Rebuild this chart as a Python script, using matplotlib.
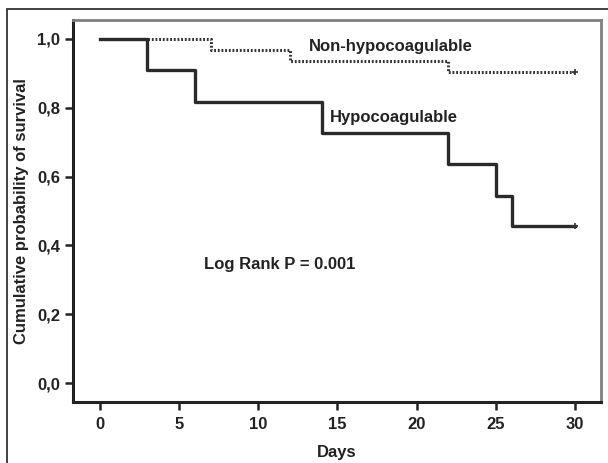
import matplotlib.pyplot as plt
from matplotlib.patches import Rectangle

# Kaplan-Meier survival estimates
hypo_days = [0, 3, 6, 14, 22, 25, 26, 30]
hypo_surv = [1.0, 0.909, 0.818, 0.727, 0.636, 0.545, 0.455, 0.455]

nonhypo_days = [0, 7, 12, 22, 30]
nonhypo_surv = [1.0, 0.968, 0.935, 0.903, 0.903]

x_ticks = [0, 5, 10, 15, 20, 25, 30]
y_ticks = [0.0, 0.2, 0.4, 0.6, 0.8, 1.0]
y_tick_labels = ['0,0', '0,2', '0,4', '0,6', '0,8', '1,0']

plt.rcParams['font.family'] = ['Liberation Sans', 'DejaVu Sans']
plt.rcParams['font.weight'] = 'bold'

fig = plt.figure(figsize=(6.08, 4.63), dpi=100)
ax = fig.add_axes([73 / 608, 61 / 463, 528 / 608, 382 / 463])

# outer frame of the figure (left and top edges visible)
fig.patches.append(Rectangle((7 / 608, -0.05), 1.2, (454 / 463) + 0.05,
                             transform=fig.transFigure, fill=False,
                             edgecolor='#333333', linewidth=1.3))

ax.step(nonhypo_days, nonhypo_surv, where='post', color='#333333',
        linewidth=2.2, linestyle=(0, (0.6, 0.6)))
ax.step(hypo_days, hypo_surv, where='post', color='#2a2a2a', linewidth=2.4)

# censor marks at the end of follow-up
ax.plot(nonhypo_days[-1], nonhypo_surv[-1], marker='+', color='#333333',
        markersize=5, markeredgewidth=1.2)
ax.plot(hypo_days[-1], hypo_surv[-1], marker='+', color='#333333',
        markersize=5, markeredgewidth=1.2)

ax.text(13.2, 0.977, 'Non-hypocoagulable', fontsize=12, fontweight='bold',
        color='#222222', va='center')
ax.text(14.5, 0.771, 'Hypocoagulable', fontsize=12, fontweight='bold',
        color='#222222', va='center')
ax.text(6.55, 0.345, 'Log Rank P = 0.001', fontsize=12, fontweight='bold',
        color='#222222', va='center')

ax.set_xlim(-1.7, 31.64)
ax.set_ylim(-0.055, 1.055)
ax.set_xticks(x_ticks)
ax.set_yticks(y_ticks)
ax.set_yticklabels(y_tick_labels)
ax.tick_params(direction='out', length=6, width=1.8, color='#222222',
               labelsize=12, labelcolor='#222222', pad=3)
ax.tick_params(axis='x', pad=5)
for lbl in ax.get_xticklabels() + ax.get_yticklabels():
    lbl.set_fontweight('bold')

ax.set_xlabel('Days', fontsize=12, fontweight='bold', color='#222222',
              labelpad=9)
ax.set_ylabel('Cumulative probability of survival', fontsize=12,
              fontweight='bold', color='#222222', labelpad=6)

for side in ['left', 'bottom']:
    ax.spines[side].set_color('#222222')
    ax.spines[side].set_linewidth(2.2)
for side in ['top', 'right']:
    ax.spines[side].set_color('#808080')
    ax.spines[side].set_linewidth(2.0)

fig.savefig('out.png', dpi=100)
